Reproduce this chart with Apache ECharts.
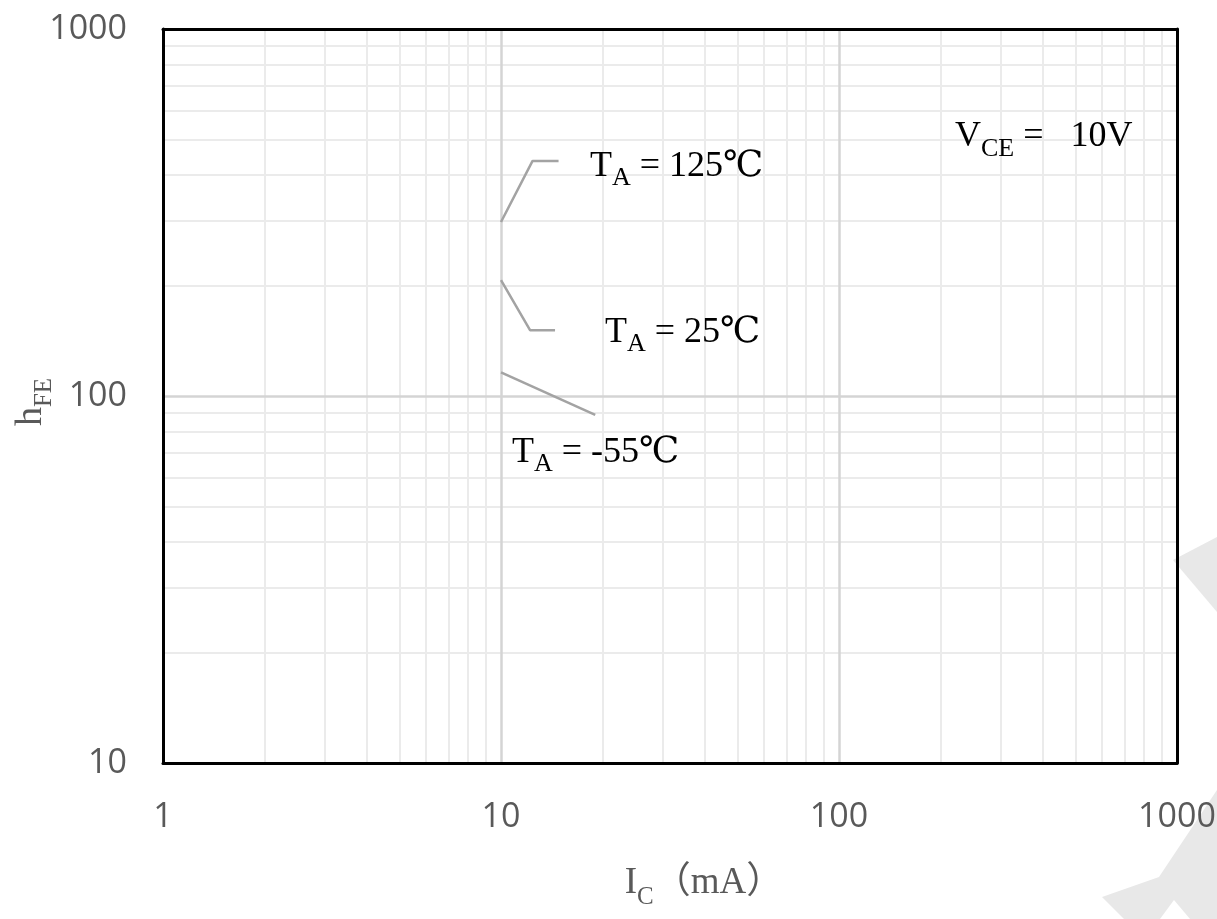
<!DOCTYPE html>
<html>
<head>
<meta charset="utf-8">
<script src="https://cdn.jsdelivr.net/npm/echarts@6/dist/echarts.min.js"></script>
<style>
html,body{margin:0;padding:0;background:#fff;}
#chart{width:1217px;height:919px;}
</style>
</head>
<body>
<div id="chart"></div>
<script>
// ---- data ----
const xRange = [1, 1000];
const yRange = [10, 1000];
const majorX = [10, 100];
const majorY = [100];
const minorMultipliers = [2, 3, 4, 5, 6, 7, 8, 9];
const xDecades = [1, 10, 100];
const yDecades = [10, 100];
// leader lines (Ic mA, hFE)
const lead125 = [[10, 298], [12.4, 437], [14.8, 437]];
const lead25 = [[10, 207], [12.2, 151], [14.45, 151]];
const leadM55 = [[10, 116], [19, 88.8]];
const tempLabels = ['125', '25', '-55'];

const serif = "'Liberation Serif','Times New Roman','Noto Sans CJK SC',serif";
const sans = "'Open Sans','Liberation Sans',sans-serif";

const minorXVals = [];
xDecades.forEach(d => minorMultipliers.forEach(m => minorXVals.push(d * m)));
const minorYVals = [];
yDecades.forEach(d => minorMultipliers.forEach(m => minorYVals.push(d * m)));

const chart = echarts.init(document.getElementById('chart'), null, { renderer: 'canvas' });

// subscript rich styles: sub token is top aligned and pushed down by a top padding
function richSub(mainSize, subSize, color, drop) {
  const mainBaseline = mainSize / 2 + 0.3375 * mainSize;
  const pad = mainBaseline + drop - 0.3375 * subSize - subSize / 2;
  return {
    m: { fontFamily: serif, fontSize: mainSize, lineHeight: mainSize, verticalAlign: 'top', color: color },
    s: { fontFamily: serif, fontSize: subSize, lineHeight: subSize, verticalAlign: 'top', padding: [pad, 0, 0, 0], color: color },
    c: { fontFamily: "'DejaVu Serif','Liberation Serif','Noto Sans CJK SC',serif", fontSize: mainSize, lineHeight: mainSize, verticalAlign: 'top', color: color }
  };
}

const axisBase = {
  type: 'log',
  logBase: 10,
  z: 10,
  nameMoveOverlap: false,
  axisLine: { show: true, lineStyle: { color: '#000', width: 3 } },
  axisTick: { show: false },
  splitLine: { show: false },
  minorTick: { show: false }
};

const gridLineSeries = {
  type: 'line',
  z: 1,
  silent: true,
  symbol: 'none',
  data: [[1, 10]],
  lineStyle: { width: 0 },
  markLine: {
    silent: true,
    symbol: 'none',
    animation: false,
    label: { show: false },
    emphasis: { disabled: true },
    data: [].concat(
      minorXVals.map(v => ({ xAxis: v, lineStyle: { color: '#ebebeb', width: 2, type: 'solid' } })),
      minorYVals.map(v => ({ yAxis: v, lineStyle: { color: '#ebebeb', width: 2, type: 'solid' } })),
      majorX.map(v => ({ xAxis: v, lineStyle: { color: '#d4d4d4', width: 2.5, type: 'solid' } })),
      majorY.map(v => ({ yAxis: v, lineStyle: { color: '#d4d4d4', width: 2.5, type: 'solid' } }))
    )
  }
};

function leader(data) {
  return {
    type: 'line',
    z: 5,
    symbol: 'none',
    silent: true,
    animation: false,
    data: data,
    lineStyle: { color: '#a3a3a3', width: 2.5 }
  };
}

function labelText(x, y, t) {
  return {
    type: 'text',
    x: x, y: y, z: 20,
    style: {
      text: '{m|T}{s|A}{m| = ' + t + '}{c|℃}',
      rich: richSub(36, 26, '#1a1a1a', 8)
    }
  };
}

const option = {
  animation: false,
  backgroundColor: '#fff',
  grid: { left: 163, right: 40, top: 29, bottom: 156, outerBoundsMode: 'none', containLabel: false },
  xAxis: [
    Object.assign({}, axisBase, {
      position: 'bottom',
      min: xRange[0], max: xRange[1],
      axisLabel: { fontSize: 34, color: '#595959', fontFamily: sans, margin: 37, formatter: v => String(v) },
      name: '{m|I}{s|C}{m|（mA）}',
      nameLocation: 'middle',
      nameGap: 102,
      nameTextStyle: { padding: [0, 0, 0, 68], rich: richSub(37, 25, '#595959', 10) }
    }),
    Object.assign({}, axisBase, {
      position: 'top',
      min: xRange[0], max: xRange[1],
      axisLabel: { show: false }
    })
  ],
  yAxis: [
    Object.assign({}, axisBase, {
      position: 'left',
      min: yRange[0], max: yRange[1],
      axisLabel: { fontSize: 34, color: '#595959', fontFamily: sans, margin: 36, formatter: v => String(v) },
      name: '{m|h}{s|FE}',
      nameLocation: 'middle',
      nameRotate: 90,
      nameGap: 113,
      nameTextStyle: { padding: [0, 12, 0, 0], rich: richSub(38, 25, '#595959', 9) }
    }),
    Object.assign({}, axisBase, {
      position: 'right',
      min: yRange[0], max: yRange[1],
      axisLabel: { show: false }
    })
  ],
  series: [gridLineSeries, leader(lead125), leader(lead25), leader(leadM55)],
  graphic: [
    labelText(590, 149, tempLabels[0]),
    labelText(605, 315, tempLabels[1]),
    labelText(512, 435, tempLabels[2]),
    {
      type: 'text', x: 955, y: 119, z: 20,
      style: { text: '{m|V}{s|CE}{m| =   10V}', rich: richSub(36, 26, '#1a1a1a', 9) }
    },
    { type: 'polygon', z: -10, silent: true, shape: { points: [[1173, 560], [1217, 537], [1217, 612]] }, style: { fill: '#e8e8e8' } },
    { type: 'polygon', z: -10, silent: true, shape: { points: [[1217, 790], [1159, 877], [1102, 897], [1124, 919], [1217, 919]] }, style: { fill: '#e8e8e8' } },
    { type: 'polygon', z: -9, silent: true, shape: { points: [[1174, 900], [1190, 919], [1160, 919]] }, style: { fill: '#ffffff' } }
  ]
};
chart.setOption(option);
</script>
</body>
</html>
